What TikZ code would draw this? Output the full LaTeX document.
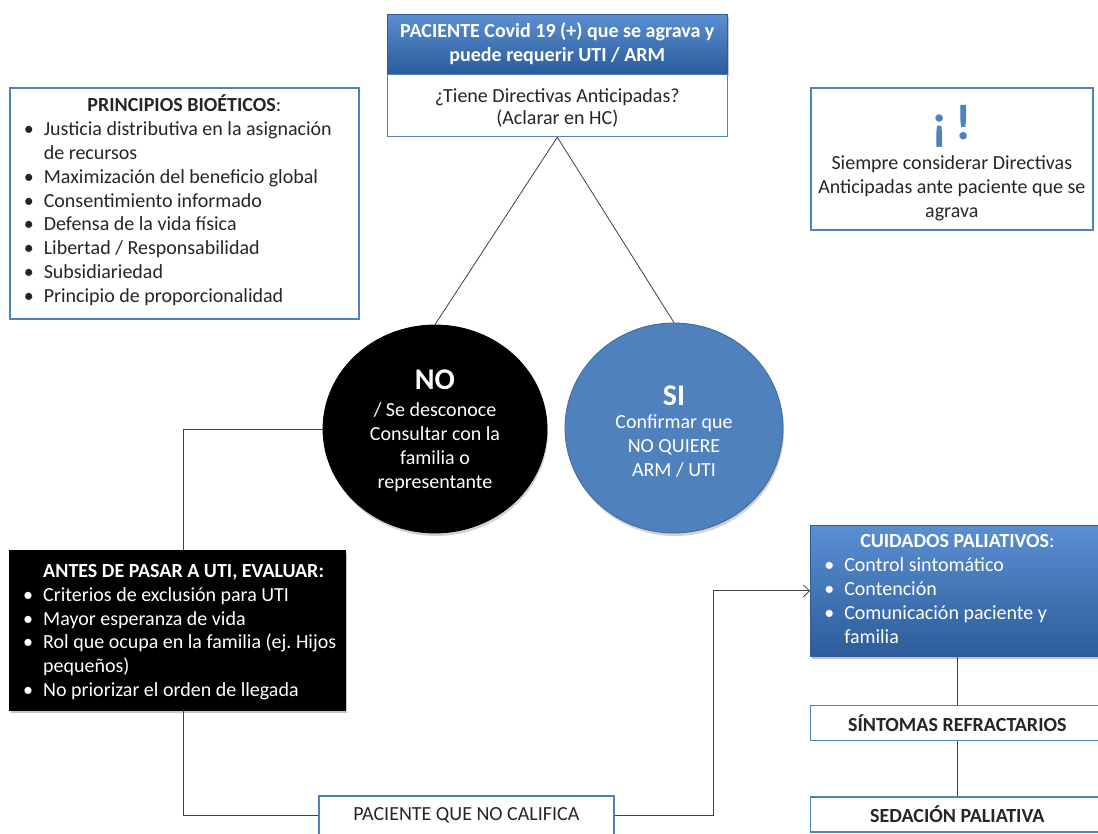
\documentclass[tikz,border=0pt]{standalone}
\usepackage{fontspec}
\setmainfont{Carlito}
\usetikzlibrary{positioning}
\usetikzlibrary{shapes.geometric}
\usetikzlibrary{shadows}
\usetikzlibrary{arrows.meta}
\setlength{\parindent}{0pt}
\tikzset{
  font={\fontsize{20pt}{23.9pt}\selectfont}
}
\definecolor{boxBlue}{HTML}{4F81BD}
\definecolor{headTop}{HTML}{5A8FD2}
\definecolor{headBottom}{HTML}{2C5C9A}
\definecolor{textGray}{HTML}{262626}
\def\lineColor{black!75}
\def\bulletIndent{30pt}
\tikzstyle{whitebox}=[rectangle,draw=boxBlue,line width=1.6pt,fill=white,text=textGray,inner sep=0pt]
\tikzstyle{bluebox}=[rectangle,draw=headBottom,line width=0.6pt,top color=headTop,bottom color=headBottom,text=white,drop shadow={opacity=0.45,shadow xshift=2pt,shadow yshift=-3pt}]
\tikzstyle{blackbox}=[rectangle,draw=black,fill=black,text=white,drop shadow={opacity=0.45,shadow xshift=2pt,shadow yshift=-3pt}]
\tikzstyle{listbox}=[align=flush left,inner xsep=4pt,inner ysep=0pt]
\tikzstyle{answer}=[ellipse,align=center,inner sep=0pt,line width=0.8pt,drop shadow={opacity=0.35,shadow xshift=1pt,shadow yshift=-3pt}]
\tikzstyle{connection}=[line width=0.8pt,draw=\lineColor]
\tikzstyle{connectionArrow}=[connection,-{Straight Barb[length=6pt,width=12pt]}]
\newcommand{\bitem}{\par\hangindent=\bulletIndent\hangafter=1\noindent\makebox[\bulletIndent][l]{\hspace{10pt}\textbullet}}
% first line of a text, with some extra room above it
\newcommand{\tallline}[2]{\raisebox{0pt}[\dimexpr\height+#1\relax][\depth]{#2}}
\newcommand{\bigword}[1]{{\fontsize{30pt}{32pt}\selectfont\bfseries #1}}

\newcommand{\questionBlock}{
    \node[bluebox,anchor=north west,minimum width=340pt,minimum height=59pt,align=center,font=\fontsize{20pt}{24pt}\selectfont\bfseries] (pac-head) at (387,14) {PACIENTE Covid 19 (+) que se agrava y\\puede requerir UTI / ARM};
    \node[whitebox,below=0pt of pac-head,minimum width=340pt,minimum height=62pt,align=center,font=\fontsize{20pt}{22pt}\selectfont] (pac-ask) {\tallline{5pt}{¿Tiene Directivas Anticipadas?}\\(Aclarar en HC)};

    \node[whitebox,listbox,anchor=north west,minimum width=349pt,minimum height=231pt,text width=341pt] (principios) at (9,87) {{\centering\textbf{PRINCIPIOS BIOÉTICOS}:\par}
        \bitem Justicia distributiva en la asignación\newline de recursos
        \bitem Maximización del beneficio global
        \bitem Consentimiento informado
        \bitem Defensa de la vida física
        \bitem Libertad / Responsabilidad
        \bitem Subsidiariedad
        \bitem Principio de proporcionalidad\par\vspace{6pt}};

    \node[whitebox,anchor=north west,minimum width=282pt,minimum height=142pt,align=center] (aviso) at (810,87) {\tallline{8pt}{\fontsize{50pt}{50pt}\selectfont\bfseries\color{boxBlue}¡\,!}\\[6pt]Siempre considerar Directivas\\Anticipadas ante paciente que se\\agrava};
}
\newcommand{\answerBlock}{
    \node[answer,fill=black,draw=black,minimum width=224pt,minimum height=208pt,text=white] (no-circ) at (435,429) {\tallline{4pt}{\bigword{NO}}\\[3pt]/ Se desconoce\\Consultar con la\\familia o\\representante};
    \node[answer,fill=boxBlue,draw=boxBlue!80!black,minimum width=218pt,minimum height=210pt,text=white] (si-circ) at (674,428) {\tallline{7pt}{\bigword{SI}}\\Confirmar que\\NO QUIERE\\ARM / UTI};

    \node[blackbox,listbox,anchor=north west,minimum width=336pt,minimum height=160pt,text width=328pt] (antes) at (9,550) {\tallline{4pt}{\hspace*{\bulletIndent}\textbf{ANTES DE PASAR A UTI, EVALUAR:}}
        \bitem Criterios de exclusión para UTI
        \bitem Mayor esperanza de vida
        \bitem Rol que ocupa en la familia (ej.\ Hijos\newline pequeños)
        \bitem No priorizar el orden de llegada\par};

    \node[whitebox,anchor=north west,minimum width=295pt,minimum height=40pt] (nocalifica) at (318,795) {PACIENTE QUE NO CALIFICA};
}
\newcommand{\palliativeBlock}{
    \node[bluebox,listbox,anchor=north west,minimum width=294pt,minimum height=131pt,text width=286pt] (paliativos) at (810,525) {{\centering\textbf{CUIDADOS PALIATIVOS}:\par}
        \bitem Control sintomático
        \bitem Contención
        \bitem Comunicación paciente y\newline familia\par\vspace{4pt}};
    \node[whitebox,below=48pt of paliativos,minimum width=294pt,minimum height=35pt,font=\fontsize{20pt}{23.9pt}\selectfont\bfseries] (refractarios) {SÍNTOMAS REFRACTARIOS};
    \node[whitebox,below=55pt of refractarios,minimum width=294pt,minimum height=35pt,font=\fontsize{20pt}{23.9pt}\selectfont\bfseries] (sedacion) {SEDACIÓN PALIATIVA};
}

\begin{document}
\begin{tikzpicture}[x=1pt,y=-1pt]
    \useasboundingbox (0,0) rectangle (1098,833);
    \fill[white] (0,0) rectangle (1098,833);

    \questionBlock

    \answerBlock

    \palliativeBlock

    % Draw connections from the question to both answers
    \foreach \ans in {no-circ,si-circ}
        \draw[connection] (pac-ask.south) -- (\ans.north);

    % NO branch down to the patient that does not qualify
    \draw[connection] (no-circ.west) -| ([xshift=6pt]antes.north);
    \draw[connection] ([xshift=6pt]antes.south) |- (nocalifica.west);

    % on to palliative care
    \path (paliativos.west) ++(-97pt,0) coordinate (turn-r);
    \draw[connectionArrow] (nocalifica.east) -| (turn-r) -- (paliativos.west);
    \draw[connection] (paliativos.south) -- (refractarios.north);
    \draw[connection] (refractarios.south) -- (sedacion.north);
\end{tikzpicture}
\end{document}
